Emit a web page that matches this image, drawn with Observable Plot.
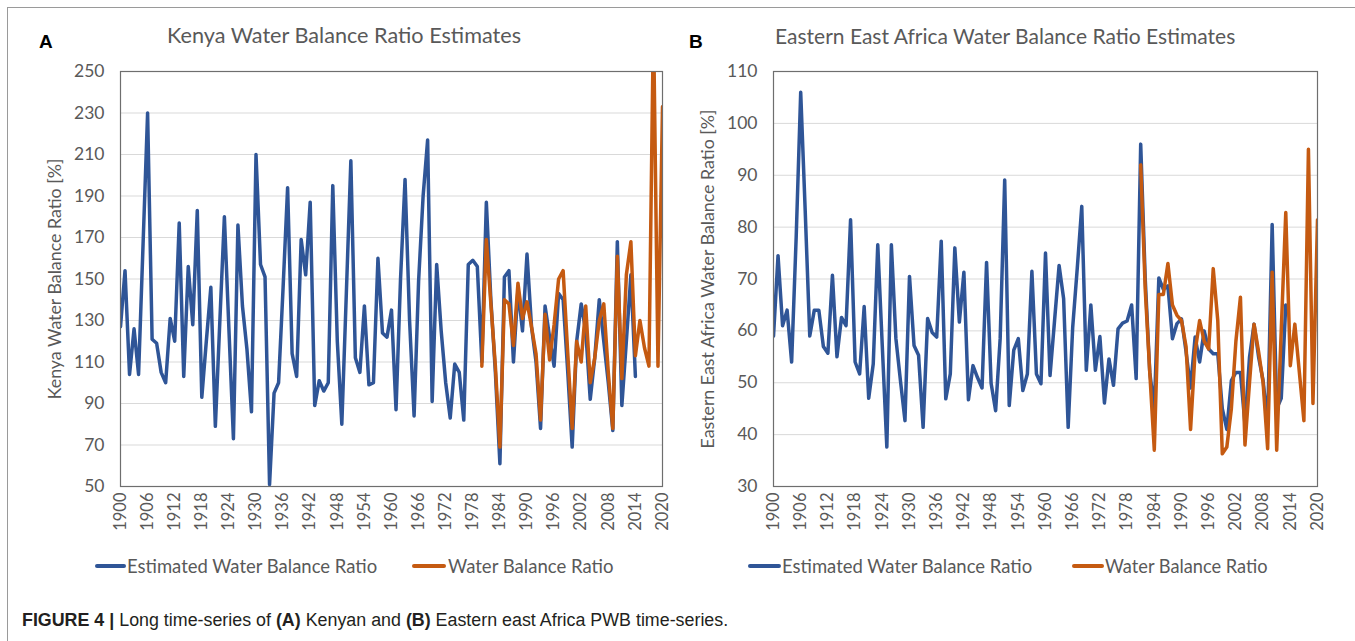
<!DOCTYPE html>
<html><head><meta charset="utf-8">
<script src="https://cdn.jsdelivr.net/npm/d3@7"></script>
<script src="https://cdn.jsdelivr.net/npm/@observablehq/plot@0.6"></script>
<style>
body{margin:0;background:#fff;}
#page{position:relative;width:1355px;height:641px;overflow:hidden;background:#fff;}
.abs{position:absolute;white-space:nowrap;line-height:1;}
svg{overflow:visible}
</style></head><body><div id="page"></div>
<script>
// ---------- DATA ----------
const xTickYears = [1900,1906,1912,1918,1924,1930,1936,1942,1948,1954,1960,1966,1972,1978,1984,1990,1996,2002,2008,2014,2020];
const seriesNames = ["Estimated Water Balance Ratio", "Water Balance Ratio"];

// Panel A – Kenya
const kenyaEstStart = 1900;
const kenyaEstimated = [
127,154,104,126,104,167,230,121,119,105,
100,131,120,177,103,156,128,183,93,120,
146,79,130,180,126,73,176,137,116,86,
210,157,151,51,95,100,146,194,114,103,
169,152,187,89,101,96,100,195,120,80,
143,207,112,105,137,99,100,160,124,122,
135,87,150,198,130,84,149,190,217,91,
157,125,100,83,109,105,82,157,159,156,
110,187,140,105,61,151,154,110,145,125,
162,127,110,78,137,122,108,143,140,106,
69,120,138,125,92,112,140,120,100,77,
168,89,120,152,103];
const kenyaObsStart = 1980;
const kenyaObserved = [
108,169,138,108,69,140,138,118,148,131,
139,127,114,82,133,111,128,150,154,115,
78,120,110,137,100,112,130,138,105,78,
161,102,152,168,113,130,117,108,275,108,
233];
const kenyaYTicks = [50,70,90,110,130,150,170,190,210,230,250];

// Panel B – Eastern East Africa
const eeaEstStart = 1900;
const eeaEstimated = [
59,74.5,61,64,54,78,106,83,59,64,
64,57,55.7,70.7,55,62.6,61,81.4,54,51.7,
64.7,47,53.6,76.6,57,37.6,76.6,58.5,50.4,42.7,
70.5,57.2,55.3,41.4,62.4,59.7,58.8,77.3,46.9,51.7,
76,61.7,71.3,46.7,53.3,51,49,73.2,49.9,44.6,
58.5,89.1,45.6,56.3,58.5,48.5,51.7,71.5,51.7,49.8,
75,51.4,62,72.6,66.2,41.4,60.7,72,84,52.4,
65,52.4,58.9,46.1,54.6,49.5,60.4,61.5,61.9,65,
50.8,96,70,52,45,70.2,68,68.7,58.5,61.4,
62.3,56,49,58.8,54,60,56.5,55.6,55.6,45,
41,50.4,52,52,42,54.9,61.3,55,50.4,42,
80.5,45,47,65];
const eeaObsStart = 1981;
const eeaObserved = [
92,68,52,37,67,67,73,65,63,62,
57,41,56,62,58,56.5,72,62,36.3,37.6,
45,58,66.5,38,50,61.3,56,50,37.3,71.3,
37,60,82.8,53.3,61.3,52,42.7,95,46,81.4];
const eeaYTicks = [30,40,50,60,70,80,90,100,110];

// ---------- STYLE ----------
const BLUE = "#2f5597", ORANGE = "#c55a11", GRAY = "#595959";
const page = document.getElementById("page");

function toRows(start, values){ return values.map((v,i)=>({year:start+i, value:v})); }

const ctx = document.createElement("canvas").getContext("2d");
function measure(text, font){ ctx.font = font; return ctx.measureText(text).width; }

function addText(html, plain, {x, y, w, size, family="Lato", weight="normal", color=GRAY}){
  let s = size;
  if (w) s = size * w / measure(plain, `${weight} ${size}px ${family}`);
  const d = document.createElement("div");
  d.className = "abs";
  d.innerHTML = html;
  d.style.fontFamily = family; d.style.fontWeight = weight; d.style.fontSize = s + "px";
  d.style.color = color; d.style.left = x + "px"; d.style.top = (y - s*0.5) + "px";
  page.appendChild(d);
  return d;
}
function addLine(x1, x2, y, color){
  const d = document.createElement("div");
  d.className = "abs";
  d.style.left = x1+"px"; d.style.top = (y-1.75)+"px"; d.style.width=(x2-x1)+"px"; d.style.height="3.5px";
  d.style.background = color; d.style.borderRadius = "2px";
  page.appendChild(d);
}

function panel({left, width, marginLeft, marginRight, est, obs, yDomain, yTicks, yLabel}){
  const plot = Plot.plot({
    width, height: 545,
    marginLeft, marginRight, marginTop: 71, marginBottom: 59,
    style: {fontFamily: "Lato", background: "transparent", color: GRAY},
    x: {domain: [1900, 2020]},
    y: {domain: yDomain},
    marks: [
      Plot.gridY(yTicks, {stroke: "#d9d9d9", strokeOpacity: 1, strokeWidth: 1}),
      Plot.axisY({ticks: yTicks, tickSize: 0, tickPadding: 16, fontSize: 17.5, fill: GRAY, label: null}),
      Plot.axisX({ticks: xTickYears, tickFormat: d => String(d), tickRotate: -90, tickSize: 0, tickPadding: 6, fontSize: 16.5, fill: GRAY, label: null}),
      Plot.text([yLabel], {frameAnchor: "left", textAnchor: "middle", dx: -65, rotate: -90, text: d => d, fontSize: 17.8, fill: GRAY}),
      Plot.lineY(est, {x: "year", y: "value", stroke: BLUE, strokeWidth: 3.5, strokeLinejoin: "round", clip: true}),
      Plot.lineY(obs, {x: "year", y: "value", stroke: ORANGE, strokeWidth: 3.5, strokeLinejoin: "round", clip: true}),
      Plot.frame({stroke: "#6e6e6e", strokeWidth: 1.2})
    ]
  });
  plot.style.position = "absolute"; plot.style.left = left + "px"; plot.style.top = "0px";
  page.appendChild(plot);
}

panel({left: 0, width: 680, marginLeft: 120, marginRight: 18,
  est: toRows(kenyaEstStart, kenyaEstimated), obs: toRows(kenyaObsStart, kenyaObserved),
  yDomain: [50, 250], yTicks: kenyaYTicks, yLabel: "Kenya Water Balance Ratio [%]"});
panel({left: 680, width: 675, marginLeft: 93, marginRight: 38,
  est: toRows(eeaEstStart, eeaEstimated), obs: toRows(eeaObsStart, eeaObserved),
  yDomain: [30, 110], yTicks: eeaYTicks, yLabel: "Eastern East Africa Water Balance Ratio [%]"});

// page borders
const bl = document.createElement("div"); bl.className="abs";
bl.style.cssText += "left:7px;top:7px;width:1px;height:634px;background:#9a9a9a;"; page.appendChild(bl);
const bt = document.createElement("div"); bt.className="abs";
bt.style.cssText += "left:7px;top:7px;width:1348px;height:1px;background:#9a9a9a;"; page.appendChild(bt);

// titles and panel letters
addText("Kenya Water Balance Ratio Estimates", "Kenya Water Balance Ratio Estimates", {x: 167, y: 36, w: 355, size: 19});
addText("Eastern East Africa Water Balance Ratio Estimates", "Eastern East Africa Water Balance Ratio Estimates", {x: 775, y: 36, w: 462, size: 19});
addText("A", "A", {x: 39, y: 41, size: 19, family: "Liberation Sans", weight: "bold", color: "#000"});
addText("B", "B", {x: 689, y: 41, size: 19, family: "Liberation Sans", weight: "bold", color: "#000"});

// legends
addLine(95, 126, 566, BLUE);
addText(seriesNames[0], seriesNames[0], {x: 127, y: 566, w: 251, size: 17});
addLine(412, 446, 566, ORANGE);
addText(seriesNames[1], seriesNames[1], {x: 448, y: 566, w: 166, size: 17});
addLine(748, 781, 566, BLUE);
addText(seriesNames[0], seriesNames[0], {x: 782, y: 566, w: 251, size: 17});
addLine(1072, 1104, 566, ORANGE);
addText(seriesNames[1], seriesNames[1], {x: 1105, y: 566, w: 163, size: 17});

// caption
const capPlain = "FIGURE 4 | Long time-series of (A) Kenyan and (B) Eastern east Africa PWB time-series.";
addText("<b>FIGURE 4 |</b> Long time-series of <b>(A)</b> Kenyan and <b>(B)</b> Eastern east Africa PWB time-series.",
  capPlain, {x: 22, y: 621, w: 705, size: 16, family: "Liberation Sans", color: "#231f20"});
</script></body></html>
